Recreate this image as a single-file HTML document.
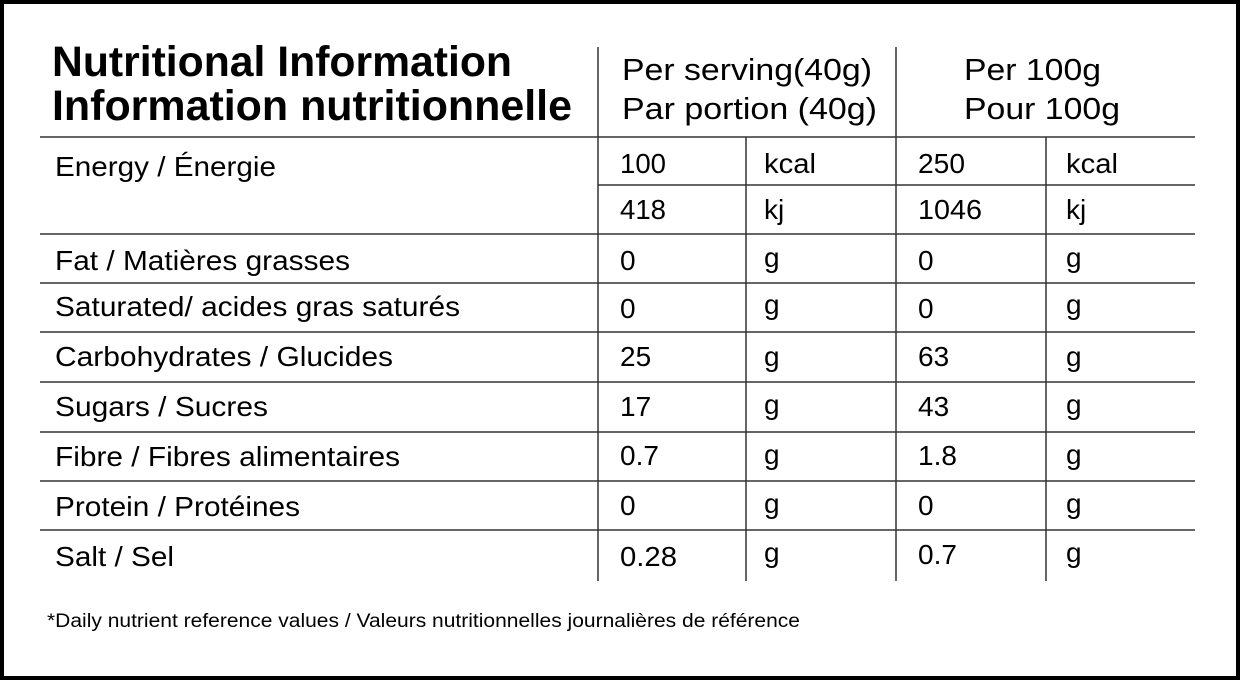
<!DOCTYPE html><html><head><style>body{margin:0;background:#fff}svg{display:block}</style></head><body>
<svg width="1240" height="680" xmlns="http://www.w3.org/2000/svg" font-family="Liberation Sans, Arial, sans-serif" fill="#000">
<rect x="2" y="2" width="1236" height="676" fill="#fff" stroke="#000" stroke-width="4"/>
<g stroke="#333" stroke-width="1.5">
<line x1="40" y1="137" x2="1195" y2="137"/>
<line x1="598" y1="185" x2="1195" y2="185"/>
<line x1="40" y1="234" x2="1195" y2="234"/>
<line x1="40" y1="283" x2="1195" y2="283"/>
<line x1="40" y1="332" x2="1195" y2="332"/>
<line x1="40" y1="382" x2="1195" y2="382"/>
<line x1="40" y1="432" x2="1195" y2="432"/>
<line x1="40" y1="481" x2="1195" y2="481"/>
<line x1="40" y1="530" x2="1195" y2="530"/>
<line x1="598" y1="47" x2="598" y2="581"/>
<line x1="896" y1="47" x2="896" y2="581"/>
<line x1="746" y1="137" x2="746" y2="581"/>
<line x1="1046" y1="137" x2="1046" y2="581"/>
</g>
<g font-weight="bold" font-size="43">
<text x="52" y="76" textLength="460" lengthAdjust="spacingAndGlyphs">Nutritional Information</text>
<text x="52" y="120" textLength="520" lengthAdjust="spacingAndGlyphs">Information nutritionnelle</text>
</g>
<g font-size="31">
<text x="622" y="80" textLength="250" lengthAdjust="spacingAndGlyphs">Per serving(40g)</text>
<text x="622" y="119" textLength="255" lengthAdjust="spacingAndGlyphs">Par portion (40g)</text>
<text x="964" y="80" textLength="137" lengthAdjust="spacingAndGlyphs">Per 100g</text>
<text x="964" y="119" textLength="156" lengthAdjust="spacingAndGlyphs">Pour 100g</text>
</g>
<g font-size="28">
<text x="55" y="176" textLength="221" lengthAdjust="spacingAndGlyphs">Energy / Énergie</text>
<text x="55" y="270" textLength="295" lengthAdjust="spacingAndGlyphs">Fat / Matières grasses</text>
<text x="55" y="316" textLength="405" lengthAdjust="spacingAndGlyphs">Saturated/ acides gras saturés</text>
<text x="55" y="366" textLength="338" lengthAdjust="spacingAndGlyphs">Carbohydrates / Glucides</text>
<text x="55" y="416" textLength="213" lengthAdjust="spacingAndGlyphs">Sugars / Sucres</text>
<text x="55" y="466" textLength="345" lengthAdjust="spacingAndGlyphs">Fibre / Fibres alimentaires</text>
<text x="55" y="516" textLength="245" lengthAdjust="spacingAndGlyphs">Protein / Protéines</text>
<text x="55" y="566" textLength="119" lengthAdjust="spacingAndGlyphs">Salt / Sel</text>
</g>
<g font-size="28">
<text x="620" y="173" textLength="46" lengthAdjust="spacingAndGlyphs">100</text><text x="764" y="173" textLength="52" lengthAdjust="spacingAndGlyphs">kcal</text><text x="918" y="173" textLength="47" lengthAdjust="spacingAndGlyphs">250</text><text x="1066" y="173" textLength="52" lengthAdjust="spacingAndGlyphs">kcal</text>
<text x="620" y="219" textLength="46" lengthAdjust="spacingAndGlyphs">418</text><text x="764" y="219">kj</text><text x="918" y="219" textLength="64" lengthAdjust="spacingAndGlyphs">1046</text><text x="1066" y="219">kj</text>
<text x="620" y="270">0</text><text x="764" y="267">g</text><text x="918" y="270">0</text><text x="1066" y="267">g</text>
<text x="620" y="318">0</text><text x="764" y="314">g</text><text x="918" y="318">0</text><text x="1066" y="314">g</text>
<text x="620" y="366">25</text><text x="764" y="366">g</text><text x="918" y="366">63</text><text x="1066" y="366">g</text>
<text x="620" y="416">17</text><text x="764" y="414">g</text><text x="918" y="416">43</text><text x="1066" y="414">g</text>
<text x="620" y="465">0.7</text><text x="764" y="464">g</text><text x="918" y="465">1.8</text><text x="1066" y="464">g</text>
<text x="620" y="515">0</text><text x="764" y="513">g</text><text x="918" y="515">0</text><text x="1066" y="513">g</text>
<text x="620" y="566" textLength="57" lengthAdjust="spacingAndGlyphs">0.28</text><text x="764" y="562">g</text><text x="918" y="564">0.7</text><text x="1066" y="562">g</text>
</g>
<text x="47" y="627" font-size="19" textLength="753" lengthAdjust="spacingAndGlyphs">*Daily nutrient reference values / Valeurs nutritionnelles journalières de référence</text>
</svg>
</body></html>
